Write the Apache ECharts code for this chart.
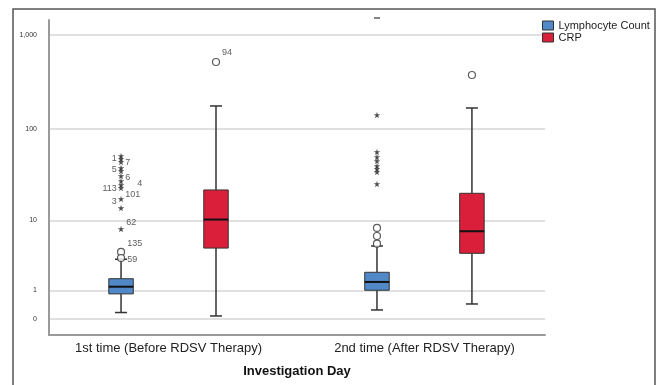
<!DOCTYPE html>
<html>
<head>
<meta charset="utf-8">
<script src="https://cdn.jsdelivr.net/npm/echarts@6/dist/echarts.min.js"></script>
<style>
html,body{margin:0;padding:0;background:#fff;}
#chart{width:659px;height:385px;}
</style>
</head>
<body>
<div id="chart"></div>
<script>
// ---------------- DATA ----------------
const categories = ['1st time (Before RDSV Therapy)', '2nd time (After RDSV Therapy)'];
const seriesNames = ['Lymphocyte Count', 'CRP'];
const yTickValues = [0, 1, 10, 100, 1000];

// [min, Q1, median, Q3, max] per category
const lymphBox = [[0.17, 0.84, 1.19, 1.66, 3.27], [0.245, 1.01, 1.46, 2.11, 4.89]];
const crpBox = [[0.076, 4.6, 10.2, 22.0, 176], [0.44, 3.93, 7.43, 20.2, 167.5]];

// outliers (circles) and extreme values (stars), per category
const lymphCircleVals = [[4.1, 3.4], [8.13, 6.51, 5.23]];
const lymphCircleIds = [['135', '59'], ['', '', '']];
const lymphStarVals = [[51.5, 47.8, 44.4, 38.2, 35.5, 31.3, 27.6, 24.9, 23.1, 17.5, 13.8, 7.9],
                       [141, 56.9, 50.2, 45.5, 40.2, 37.3, 34.6, 25.6]];
const lymphStarIds = [['', '1', '7', '', '5', '6', '4', '113', '101', '3', '', '62'],
                      ['', '', '', '', '', '', '', '']];
const lymphOffScale = [[], [1500]];
const crpCircleVals = [[514], [374.6]];
const crpCircleIds = [['94'], ['']];

// ---------------- LAYOUT / STYLE ----------------
const tf = v => Math.log10(v + 1);
const GROUP_OFF = [-0.1855, 0.1855];
const BOX_W = 0.0957;
const CAP_W = 0.047;
const colors = ['#5088c8', '#d91f3a'];
const FONT = 'Liberation Sans, Arial, sans-serif';
const labelPlace = {
  '1': ['left', 0, 0], '7': ['right', 0, 1], '5': ['left', 0, -1], '6': ['right', 0, 2],
  '4': ['right', 12, 3], '113': ['left', 0, 3], '101': ['right', 0, 6], '3': ['left', 0, 3],
  '62': ['right', 1, -6], '135': ['right', 1, -8], '59': ['right', 1, 2], '94': ['right', 1, -9]
};

function boxData(box) {
  return box.map((b, i) => [i].concat(b.map(tf)));
}
function pointData(vals, ids, off) {
  const out = [];
  vals.forEach((arr, i) => {
    arr.forEach((v, j) => {
      const id = ids ? ids[i][j] : '';
      const item = { name: id, value: [i + off, tf(v)] };
      if (id && labelPlace[id]) {
        const p = labelPlace[id];
        item.label = { show: true, position: p[0], distance: 1, offset: [p[0] === 'left' ? -p[1] : p[1], p[2]] };
      }
      out.push(item);
    });
  });
  return out;
}

function renderBox(off, fill) {
  return function (params, api) {
    const g = api.value(0) + off;
    const vals = [1, 2, 3, 4, 5].map(k => api.value(k));
    const ys = vals.map(v => api.coord([g, v])[1]);
    const cx = api.coord([g, vals[0]])[0];
    const half = api.size([BOX_W, 0])[0] / 2;
    const capHalf = api.size([CAP_W, 0])[0] / 2;
    const ws = { stroke: '#333', lineWidth: 1.5 };
    return {
      type: 'group',
      children: [
        { type: 'line', shape: { x1: cx, y1: ys[0], x2: cx, y2: ys[1] }, style: ws },
        { type: 'line', shape: { x1: cx, y1: ys[3], x2: cx, y2: ys[4] }, style: ws },
        { type: 'line', shape: { x1: cx - capHalf, y1: ys[0], x2: cx + capHalf, y2: ys[0] }, style: ws },
        { type: 'line', shape: { x1: cx - capHalf, y1: ys[4], x2: cx + capHalf, y2: ys[4] }, style: ws },
        { type: 'rect', shape: { x: cx - half, y: ys[3], width: half * 2, height: ys[1] - ys[3] },
          style: { fill: fill, stroke: '#333', lineWidth: 1 } },
        { type: 'line', shape: { x1: cx - half, y1: ys[2], x2: cx + half, y2: ys[2] }, style: { stroke: '#111', lineWidth: 2 } }
      ]
    };
  };
}

const STAR = 'path://M50,0 L61,35 L98,35 L68,57 L79,91 L50,70 L21,91 L32,57 L2,35 L39,35 Z';
const ptLabel = { show: false, formatter: '{b}', fontSize: 9, color: '#333', fontFamily: FONT };

const chart = echarts.init(document.getElementById('chart'), null, { renderer: 'canvas' });
chart.setOption({
  animation: false,
  backgroundColor: '#fff',
  textStyle: { fontFamily: FONT },
  graphic: [{
    type: 'rect', silent: true, z: -1,
    shape: { x: 13, y: 9, width: 642, height: 420 },
    style: { fill: 'none', stroke: '#555', lineWidth: 1.5 }
  }],
  legend: {
    data: seriesNames,
    orient: 'vertical', left: 537, top: 15,
    itemWidth: 11, itemHeight: 9, itemGap: 1, icon: 'rect',
    itemStyle: { borderColor: '#333', borderWidth: 1 },
    textStyle: { fontSize: 11, lineHeight: 11, color: '#222', fontFamily: FONT }
  },
  grid: { left: 49, right: 114, top: 20, bottom: 50 },
  xAxis: {
    type: 'value', min: -0.467, max: 1.471,
    name: 'Investigation Day', nameLocation: 'middle', nameGap: 30,
    nameTextStyle: { fontSize: 13, fontWeight: 'bold', color: '#111', fontFamily: FONT },
    axisLine: { show: true, onZero: false, lineStyle: { color: '#9a9a9a', width: 2 } },
    axisTick: { show: false, customValues: [0, 1] },
    splitLine: { show: false },
    axisLabel: { customValues: [0, 1], margin: 7, fontSize: 13, color: '#222', fontFamily: FONT,
      formatter: v => categories[Math.round(v)] }
  },
  yAxis: {
    type: 'value', min: -0.169, max: 3.155,
    axisLine: { show: true, onZero: false, lineStyle: { color: '#9a9a9a', width: 2 } },
    axisTick: { show: false, customValues: yTickValues.map(tf) },
    splitLine: { show: true, lineStyle: { color: '#d6d6d6', width: 1.5 } },
    axisLabel: { customValues: yTickValues.map(tf), margin: 12, fontSize: 7, color: '#333', fontFamily: FONT,
      formatter: v => Math.round(Math.pow(10, v) - 1).toLocaleString('en-US') }
  },
  series: [
    { name: seriesNames[0], type: 'custom', renderItem: renderBox(GROUP_OFF[0], colors[0]),
      itemStyle: { color: colors[0], borderColor: '#333' },
      encode: { x: 0, y: [1, 2, 3, 4, 5] }, data: boxData(lymphBox), z: 2 },
    { name: seriesNames[1], type: 'custom', renderItem: renderBox(GROUP_OFF[1], colors[1]),
      itemStyle: { color: colors[1], borderColor: '#333' },
      encode: { x: 0, y: [1, 2, 3, 4, 5] }, data: boxData(crpBox), z: 2 },
    { type: 'scatter', symbol: 'circle', symbolSize: 7, z: 3,
      itemStyle: { color: '#fff', borderColor: '#333', borderWidth: 1.2 }, label: ptLabel,
      data: pointData(lymphCircleVals, lymphCircleIds, GROUP_OFF[0]) },
    { type: 'scatter', symbol: STAR, symbolSize: 6.5, z: 3,
      itemStyle: { color: '#222' }, label: ptLabel,
      data: pointData(lymphStarVals, lymphStarIds, GROUP_OFF[0]) },
    { type: 'scatter', symbol: 'rect', symbolSize: [6, 2], z: 3, clip: false,
      itemStyle: { color: '#666' },
      data: pointData(lymphOffScale, null, GROUP_OFF[0]) },
    { type: 'scatter', symbol: 'circle', symbolSize: 7, z: 3,
      itemStyle: { color: '#fff', borderColor: '#333', borderWidth: 1.2 }, label: ptLabel,
      data: pointData(crpCircleVals, crpCircleIds, GROUP_OFF[1]) }
  ]
});
</script>
</body>
</html>
